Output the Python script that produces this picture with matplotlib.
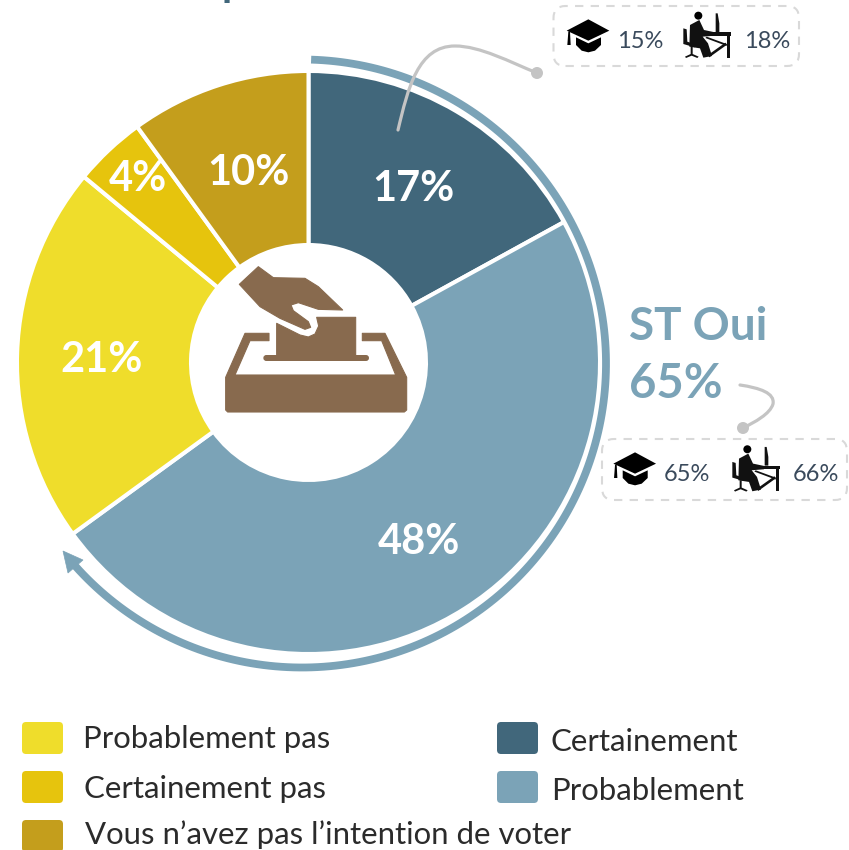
import numpy as np
import matplotlib

matplotlib.use("Agg")
import matplotlib.pyplot as plt
from matplotlib.patches import Circle, FancyBboxPatch, PathPatch, Polygon
from matplotlib.path import Path

plt.rcParams["font.family"] = ["Lato", "DejaVu Sans"]

# Chart data
CATEGORIES = ["Certainement", "Probablement", "Probablement pas", "Certainement pas",
              "Vous n\u2019avez pas l\u2019intention de voter"]
VALUES = [17, 48, 21, 4, 10]
COLORS = ["#41677B", "#7BA3B7", "#EFDD2B", "#E6C40D", "#C49E1C"]
ST_OUI_LABEL = "ST Oui"
ST_OUI_VALUE = 65
CERTAIN_GRAD, CERTAIN_WORK = 15, 18
ST_OUI_GRAD, ST_OUI_WORK = 65, 66

BLUE = "#7BA3B7"
BROWN = "#886A4E"
GREY = "#C4C4C4"
TEXT_DARK = "#3A4A5C"
WIDTH, HEIGHT = 849, 850
CX, CY = 308.5, 362.5


def Y(py):
    """Reference pictures count y from the top, the axes from the bottom."""
    return HEIGHT - py


def pts(coords, dx=0, dy=0, scale=1.0, ox=0, oy=0):
    return [(ox + dx + x * scale, Y(oy + dy + y * scale)) for x, y in coords]


def draw_ballot_icon(ax):
    """Hand and ballot box, traced in a 3x crop placed at (190, 240)."""
    kw = dict(scale=1 / 3, ox=190, oy=240)
    tray = [(107, 412), (165, 280), (237, 280), (237, 302), (180, 302), (135, 405),
            (617, 405), (575, 302), (517, 302), (517, 280), (585, 280), (650, 412),
            (650, 510), (643, 516), (113, 516), (107, 510)]
    ballot = [(260, 250), (330, 285), (355, 291), (375, 282), (386, 258), (380, 232),
              (497, 232), (497, 345), (260, 345)]
    hand = [(148, 133), (205, 80), (250, 113), (345, 115), (385, 140), (458, 210),
            (385, 208), (325, 188), (303, 195), (310, 212), (355, 245), (362, 262),
            (345, 268), (270, 235), (210, 200)]
    for shape in (tray, ballot, hand):
        ax.add_patch(Polygon(pts(shape, **kw), closed=True, fc=BROWN, ec=BROWN,
                             lw=0.8, joinstyle="round", zorder=5))
    ax.add_patch(FancyBboxPatch((190 + 220 / 3, Y(240 + 363 / 3)), 317 / 3, 6,
                                boxstyle="round,pad=0,rounding_size=3",
                                fc=BROWN, ec="none", zorder=5))


def draw_cap(ax, dx=0, dy=0):
    kw = dict(dx=dx, dy=dy, scale=1 / 3, ox=540, oy=0)
    top = [(80, 92), (145, 58), (208, 92), (145, 122)]
    bowl = [(108, 112), (145, 130), (183, 112), (183, 135), (165, 152), (145, 157),
            (125, 152), (108, 135)]
    tassel = [(85, 95), (90, 95), (92, 135), (82, 135)]
    for shape in (top, bowl, tassel):
        ax.add_patch(Polygon(pts(shape, **kw), closed=True, fc="black", ec="none", zorder=5))


def draw_worker(ax, dx=0, dy=0):
    kw = dict(dx=dx, dy=dy, scale=1 / 3, ox=540, oy=0)
    ax.add_patch(Circle((540 + dx + 475 / 3, Y(dy + 47 / 3)), 4, fc="black", ec="none", zorder=5))
    shapes = [
        # body and legs
        [(450, 75), (478, 60), (492, 90), (525, 97), (525, 107), (488, 110), (504, 130),
         (516, 168), (490, 173), (480, 145), (448, 140)],
        # chair
        [(430, 85), (440, 88), (442, 125), (470, 135), (464, 142), (430, 132)],
        [(452, 140), (458, 140), (458, 162), (476, 170), (472, 174), (455, 167),
         (438, 174), (435, 170), (452, 162)],
        # desk top, leg, monitor
        [(488, 97), (573, 97), (573, 107), (488, 107)],
        [(561, 107), (569, 107), (569, 173), (561, 173)],
        [(527, 40), (533, 40), (538, 70), (538, 96), (527, 96)],
        # desk brace
        [(500, 110), (560, 132), (560, 138), (496, 114)],
        [(556, 128), (561, 134), (508, 172), (504, 165)],
    ]
    for shape in shapes:
        ax.add_patch(Polygon(pts(shape, **kw), closed=True, fc="#111111", ec="none", zorder=5))


def draw_connector(ax, nodes, dot):
    codes = [Path.MOVETO] + [Path.CURVE4] * (len(nodes) - 1)
    ax.add_patch(PathPatch(Path(pts(nodes), codes), fc="none", ec=GREY, lw=2.3,
                           capstyle="round", zorder=6))
    ax.add_patch(Circle((dot[0], Y(dot[1])), 6, fc=GREY, ec="none", zorder=6))


def draw_note_box(ax, x0, y0, x1, y1, grad, work, dx, dy, tx, ty):
    ax.add_patch(FancyBboxPatch((x0, Y(y1)), x1 - x0, y1 - y0,
                                boxstyle="round,pad=0,rounding_size=12", fc="none",
                                ec="#D9D9D9", lw=1.5, linestyle=(0, (4, 3.5)), zorder=4))
    draw_cap(ax, dx, dy)
    draw_worker(ax, tx, ty)
    ax.text(640 + dx, Y(41) - dy, f"{grad}%", fontsize=17, color=TEXT_DARK,
            ha="center", va="center", zorder=5)
    ax.text(767 + tx, Y(41) - ty, f"{work}%", fontsize=17, color=TEXT_DARK,
            ha="center", va="center", zorder=5)


def draw_legend(ax):
    rows = [(2, 22, 738, 83, 739), (3, 22, 787, 84, 789), (4, 22, 836, 85, 835),
            (0, 497, 738, 551, 742), (1, 497, 787, 551, 791)]
    for index, box_x, box_y, text_x, text_y in rows:
        ax.add_patch(FancyBboxPatch((box_x, Y(box_y + 16)), 41, 32,
                                    boxstyle="round,pad=0,rounding_size=4",
                                    fc=COLORS[index], ec="none", zorder=3))
        ax.text(text_x, Y(text_y), CATEGORIES[index], fontsize=22.4, color="#2B2B2B",
                ha="left", va="center")


def main():
    fig = plt.figure(figsize=(WIDTH / 100, HEIGHT / 100), dpi=100)
    ax = fig.add_axes([0, 0, 1, 1])

    wedges, _, pct_texts = ax.pie(
        VALUES,
        colors=COLORS,
        center=(CX, Y(CY)),
        radius=291.5,
        startangle=90,
        counterclock=False,
        autopct="%.0f%%",
        pctdistance=0.71,
        wedgeprops=dict(width=174, edgecolor="white", linewidth=2.9),
        textprops=dict(color="white", fontsize=30, fontweight="bold"),
    )
    for text in pct_texts:
        x, y = text.get_position()
        text.set_position((x, y - 4.5))
    # the two narrow slices have their labels placed by hand
    pct_texts[3].set_position((138, Y(179)))
    pct_texts[4].set_position((248, Y(173)))

    ax.set_xlim(0, WIDTH)
    ax.set_ylim(0, HEIGHT)
    ax.set_aspect("equal")

    # Arc around the "ST Oui" share, ending in an arrow head
    arc_r = 304
    arc_cx, arc_cy = 302, 363.5
    end_angle = ST_OUI_VALUE / sum(VALUES) * 2 * np.pi
    theta = np.linspace(0.03, end_angle - 0.10, 200)
    ax.plot(arc_cx + arc_r * np.sin(theta), Y(arc_cy) + arc_r * np.cos(theta),
            color=BLUE, lw=5.6, solid_capstyle="butt", zorder=2)
    ax.add_patch(Polygon(pts([(63, 551), (68, 573), (83, 560)]), closed=True,
                         fc=BLUE, ec=BLUE, lw=0.5, zorder=2))

    draw_ballot_icon(ax)

    # Top-right note
    draw_connector(ax, [(398, 130), (408, 88), (418, 46), (455, 46),
                        (480, 46), (510, 62), (537, 73)], (537, 73))
    draw_note_box(ax, 553.5, 6, 799, 66, CERTAIN_GRAD, CERTAIN_WORK, 0, 0, 0, 0)

    # ST Oui block and its note
    ax.text(629, Y(327), ST_OUI_LABEL, fontsize=33, fontweight="bold", color=BLUE,
            ha="left", va="center")
    ax.text(629, Y(384), f"{ST_OUI_VALUE}%", fontsize=34, fontweight="bold", color=BLUE,
            ha="left", va="center")
    draw_connector(ax, [(740, 385), (760, 388), (775, 393), (773, 404),
                        (770, 414), (755, 422), (743, 428)], (743, 428))
    draw_note_box(ax, 602, 439, 847, 500, ST_OUI_GRAD, ST_OUI_WORK, 46.7, 433, 49, 433.6)

    draw_legend(ax)

    # descender of the cut-off title above the chart
    ax.text(222, Y(-4), "p", fontsize=30, fontweight="bold", color="#41677B",
            ha="left", va="baseline", clip_on=True)

    ax.axis("off")
    fig.savefig("out.png", dpi=100)
    plt.close(fig)


if __name__ == "__main__":
    main()
